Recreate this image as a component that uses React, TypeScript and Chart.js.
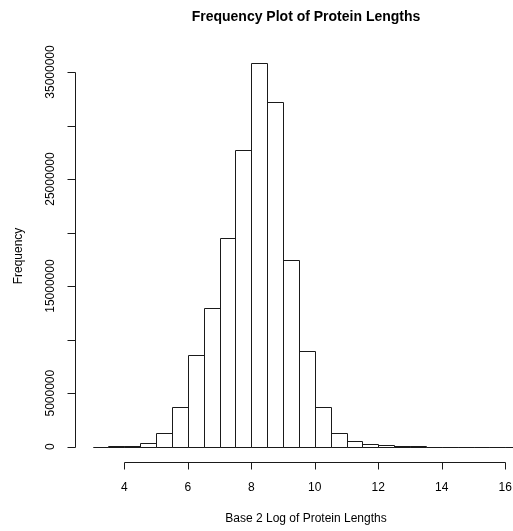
import React, { useEffect, useRef } from "react";
import { Chart, registerables } from "chart.js";

Chart.register(...registerables);

// ---- data ----
const binStarts = [3.0, 3.5, 4.0, 4.5, 5.0, 5.5, 6.0, 6.5, 7.0, 7.5, 8.0, 8.5, 9.0, 9.5, 10.0, 10.5, 11.0, 11.5, 12.0, 12.5, 13.0, 13.5, 14.0, 14.5, 15.0, 15.5, 16.0];
const binWidth = 0.5;
const counts = [10000, 20000, 60000, 320000, 1250000, 3700000, 8600000, 13000000, 19500000, 27750000, 35800000, 32200000, 17450000, 8950000, 3740000, 1300000, 560000, 250000, 120000, 40000, 20000, 10000, 8000, 5000, 3000, 2000, 1000];
const xTicks = [4, 6, 8, 10, 12, 14, 16];
const yTicks = [0, 5000000, 10000000, 15000000, 20000000, 25000000, 30000000, 35000000];
const yTickLabels = ["0", "5000000", "", "15000000", "", "25000000", "", "35000000"];
const TITLE = "Frequency Plot of Protein Lengths";
const XLAB = "Base 2 Log of Protein Lengths";
const YLAB = "Frequency";

const FONT = '"Liberation Sans", Arial, Helvetica, sans-serif';

const axesPlugin = {
  id: "rAxes",
  afterDatasetsDraw(chart: any) {
    const ctx = chart.ctx;
    ctx.save();
    // bar outlines (R-style single-pixel shared edges)
    const meta = chart.getDatasetMeta(0);
    ctx.strokeStyle = "#1a1a1a";
    ctx.lineWidth = 1;
    ctx.beginPath();
    meta.data.forEach((el: any) => {
      const { x, y, base, width } = el.getProps(["x", "y", "base", "width"], true);
      const l = Math.round(x - width / 2) + 0.5;
      const r = Math.round(x + width / 2) + 0.5;
      const t = Math.round(y) + 0.5;
      const b = Math.round(base) + 0.5;
      ctx.rect(l, t, r - l, b - t);
    });
    ctx.stroke();
    ctx.restore();
  },
  afterDraw(chart: any) {
    const ctx = chart.ctx;
    const xs = chart.scales.x;
    const ys = chart.scales.y;
    const area = chart.chartArea;
    ctx.save();
    ctx.strokeStyle = "#1a1a1a";
    ctx.fillStyle = "#000";
    ctx.lineWidth = 1;

    // x axis
    const ax = Math.round(area.bottom) + 0.5;
    const x0 = Math.round(xs.getPixelForValue(xTicks[0])) + 0.5;
    const x1 = Math.round(xs.getPixelForValue(xTicks[xTicks.length - 1])) + 0.5;
    ctx.beginPath();
    ctx.moveTo(x0, ax);
    ctx.lineTo(x1, ax);
    xTicks.forEach((v) => {
      const px = Math.round(xs.getPixelForValue(v)) + 0.5;
      ctx.moveTo(px, ax);
      ctx.lineTo(px, ax + 7);
    });
    ctx.stroke();
    ctx.font = `12px ${FONT}`;
    ctx.textAlign = "center";
    ctx.textBaseline = "middle";
    xTicks.forEach((v) => {
      ctx.fillText(String(v), xs.getPixelForValue(v), 488);
    });

    // y axis
    const ay = Math.round(area.left) + 0.5;
    const y0 = Math.round(ys.getPixelForValue(yTicks[0])) + 0.5;
    const y1 = Math.round(ys.getPixelForValue(yTicks[yTicks.length - 1])) + 0.5;
    ctx.beginPath();
    ctx.moveTo(ay, y0);
    ctx.lineTo(ay, y1);
    yTicks.forEach((v) => {
      const py = Math.round(ys.getPixelForValue(v)) + 0.5;
      ctx.moveTo(ay, py);
      ctx.lineTo(ay - 8, py);
    });
    ctx.stroke();
    yTicks.forEach((v, i) => {
      const lab = yTickLabels[i];
      if (!lab) return;
      ctx.save();
      ctx.translate(51, ys.getPixelForValue(v));
      ctx.rotate(-Math.PI / 2);
      ctx.fillText(lab, 0, 0);
      ctx.restore();
    });

    // titles
    ctx.font = `bold 14px ${FONT}`;
    ctx.fillText(TITLE, 306, 17);
    ctx.font = `12px ${FONT}`;
    ctx.fillText(XLAB, 306, 519);
    ctx.save();
    ctx.translate(19, 256);
    ctx.rotate(-Math.PI / 2);
    ctx.fillText(YLAB, 0, 0);
    ctx.restore();
    ctx.restore();
  },
};

export default function App() {
  const ref = useRef<HTMLCanvasElement | null>(null);
  useEffect(() => {
    if (!ref.current) return;
    const chart = new Chart(ref.current, {
      type: "bar",
      data: {
        datasets: [
          {
            data: binStarts.map((s, i) => ({ x: s + binWidth / 2, y: counts[i] })),
            backgroundColor: "#ffffff",
            borderWidth: 0,
            barPercentage: 1,
            categoryPercentage: 1,
          },
        ],
      },
      options: {
        animation: false,
        responsive: false,
        events: [],
        layout: { padding: { left: 75, top: 48, right: 0, bottom: 69 } },
        plugins: { legend: { display: false }, tooltip: { enabled: false }, title: { display: false } },
        scales: {
          x: { type: "linear", min: 2.447, max: 16.243, offset: false, display: false },
          y: { type: "linear", min: -1430000, max: 37240000, display: false },
        },
      },
      plugins: [axesPlugin],
    });
    return () => chart.destroy();
  }, []);
  return (
    <div style={{ position: "absolute", left: 0, top: 0, width: 513, height: 531, overflow: "hidden", background: "#fff" }}>
      <canvas ref={ref} width={513} height={531} style={{ display: "block" }} />
    </div>
  );
}
